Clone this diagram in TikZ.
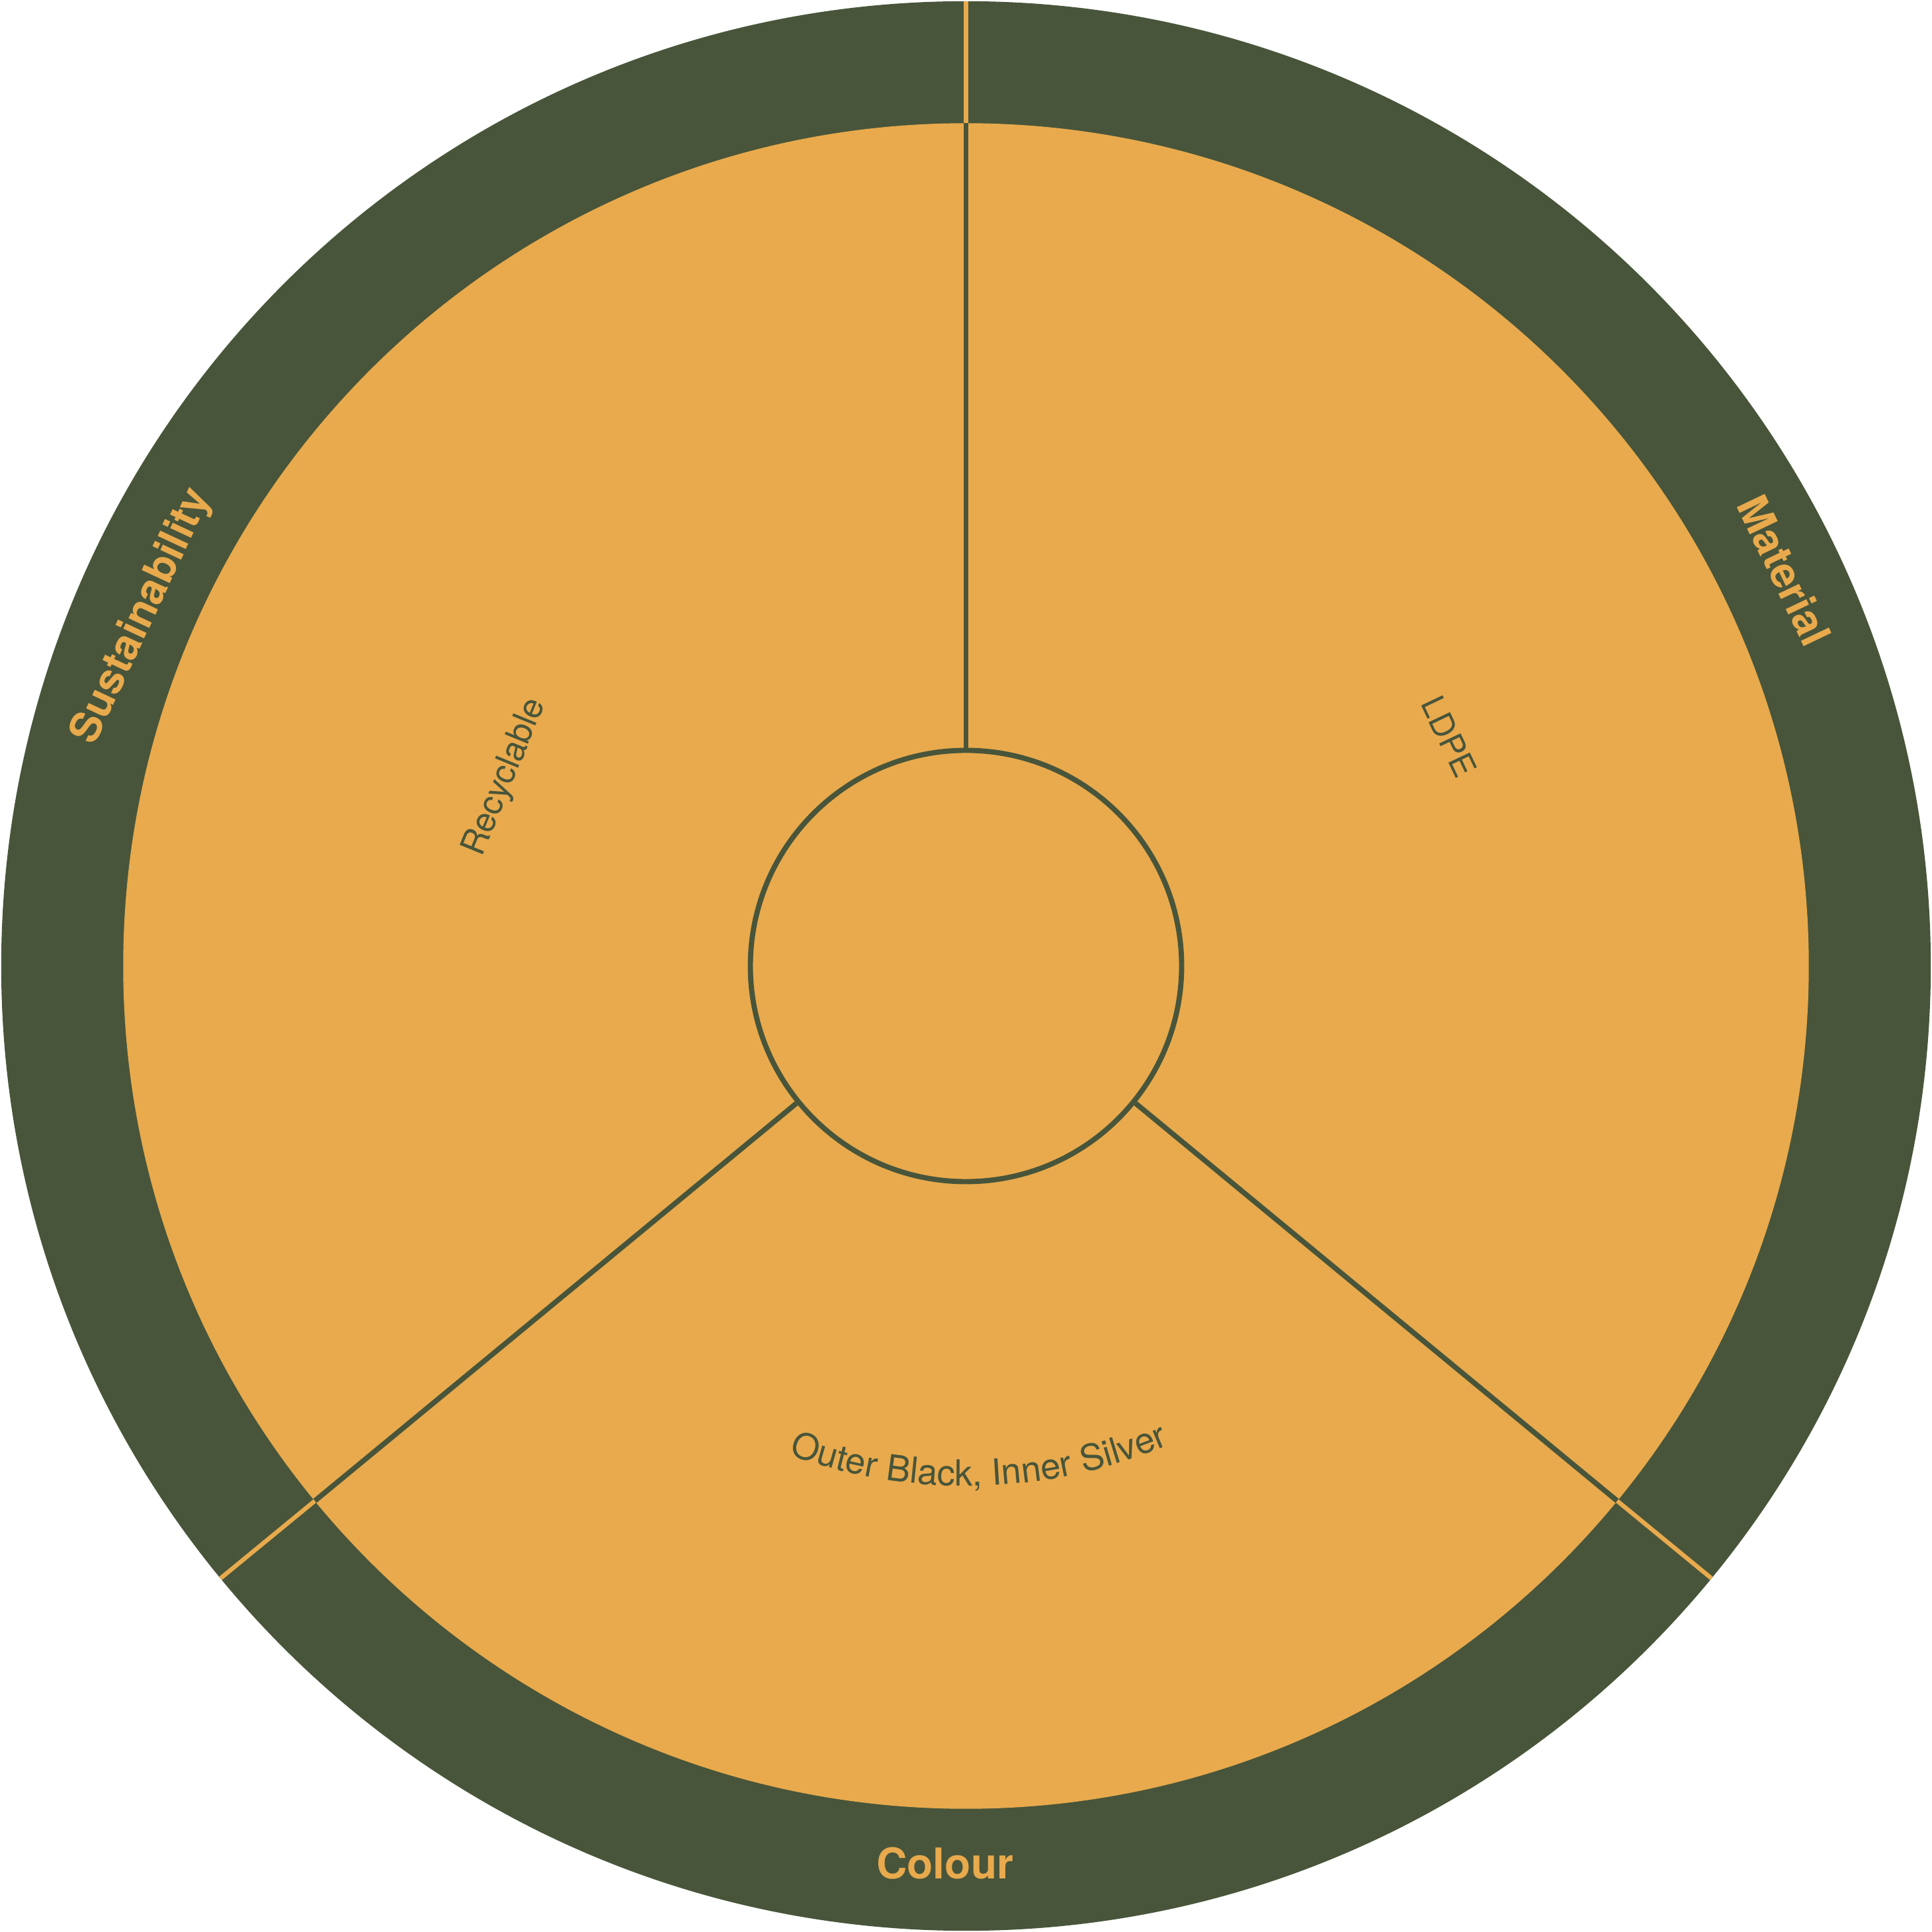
\documentclass[tikz,border=0pt]{standalone}
\usepackage{fontspec}
\setmainfont{TeX Gyre Heros}
\usepackage{tikz}
\usetikzlibrary{decorations.text,calc}
\definecolor{moss}{HTML}{48553A}
\definecolor{ochre}{HTML}{E8AA4D}
\tikzset{
    semithick,
    hole/.style ={circle, draw=moss, fill=ochre, line width=1.2pt, inner sep=0pt, minimum size=3.5cm},
    divider/.style={draw=moss, line width=1.2pt},
    ringdivider/.style={draw=ochre, line width=1pt},
    ringlabel/.style = {text=ochre, inner sep=0pt, font=\bfseries\fontsize{9.8}{11.8}\selectfont},
    leaflabel/.style = {text=moss, inner sep=0pt}
}

\begin{document}
\begin{tikzpicture}
%Canvas
    \useasboundingbox (-7.84,-7.84) rectangle (7.84,7.84);
    \fill[white] (-7.84,-7.84) rectangle (7.84,7.84);

%Rings
    \fill[moss] (0,0) circle (7.83);
    \fill[ochre] (0,0) circle (6.84);
    \node[hole] (hub) at (0,0) {};

    %%Coordinates
    \coordinate (r1) at (90:6.84);
    \coordinate (o1) at (90:7.83);
    \coordinate (r2) at (-39.4:6.84);
    \coordinate (o2) at (-39.4:7.83);
    \coordinate (r3) at (219.4:6.84);
    \coordinate (o3) at (219.4:7.83);

    % Dividers
    \path (hub.90) edge[divider] (r1);
    \path (hub.-39.4) edge[divider] (r2);
    \path (hub.219.4) edge[divider] (r3);
    \path (r1) edge[ringdivider] (o1);
    \path (r2) edge[ringdivider] (o2);
    \path (r3) edge[ringdivider] (o3);

%Outer labels
    \node[ringlabel, rotate=-64.5] (material) at (25.8:7.38) {Material};
    \node[ringlabel, rotate=65] (sustainability) at (157:7.26) {Sustainability};
    \node[ringlabel] (colour) at (-0.17,-7.28) {Colour};

%Inner labels
    \node[leaflabel, rotate=-64.6, font=\fontsize{7.5}{9}\selectfont] (ldpe) at (25.4:4.34) {LDPE};
    \node[leaflabel, rotate=67.7, font=\fontsize{7.9}{9.5}\selectfont] (recyclable) at (157.7:4.04) {Recyclable};
    \path[decorate, decoration={text along path, text align=center, text color=moss,
        text={|\fontsize{8.3}{10}\selectfont|Outer Black, Inner Silver}}]
        (240:4.22) arc[start angle=240, end angle=303, radius=4.22];

\end{tikzpicture}
\end{document}
